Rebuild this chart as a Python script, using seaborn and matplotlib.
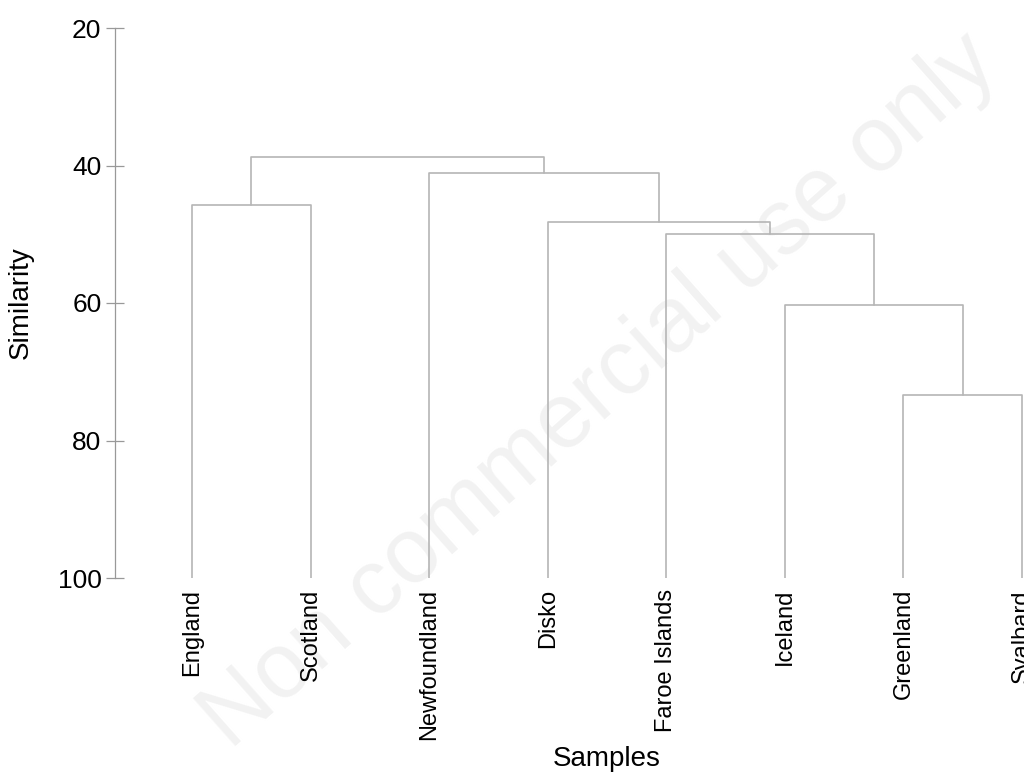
import matplotlib

matplotlib.use("Agg")
import matplotlib.pyplot as plt
import pandas as pd
import seaborn as sns

# leaves in plotted order
leaves = ["England", "Scotland", "Newfoundland", "Disko", "Faroe Islands",
          "Iceland", "Greenland", "Svalbard"]

# merges: (left node, right node, similarity); merge k creates node 8 + k
merge_left = [6, 5, 4, 3, 0, 2, 12]
merge_right = [7, 8, 9, 10, 1, 11, 13]
merge_similarity = [73.4, 60.3, 50.0, 48.2, 45.7, 41.1, 38.8]

y_ticks = [20, 40, 60, 80, 100]
leaf_similarity = 100


def build_segments():
    pos = {i: (float(i), float(leaf_similarity)) for i in range(len(leaves))}
    rows = []
    for k, (a, b, s) in enumerate(zip(merge_left, merge_right, merge_similarity)):
        xa, ya = pos[a]
        xb, yb = pos[b]
        for x, y in [(xa, ya), (xa, s), (xb, s), (xb, yb)]:
            rows.append({"x": x, "y": y, "seg": k})
        pos[len(leaves) + k] = ((xa + xb) / 2, s)
    return pd.DataFrame(rows)


def main():
    sns.set_theme(style="white")
    plt.rcParams["font.family"] = ["Liberation Sans", "DejaVu Sans"]

    fig = plt.figure(figsize=(10.24, 7.76), dpi=100)
    ax = fig.add_axes([115 / 1024, 198 / 776, 909 / 1024, 550 / 776])
    ax.set_zorder(1)
    ax.patch.set_alpha(0)

    # watermark sits behind the axes
    fig.text(600 / 1024, 1 - 392 / 776, "Non commercial use only", fontsize=66,
             color="#f2f2f2", rotation=41.5, ha="center", va="center",
             rotation_mode="anchor", zorder=0)

    segments = build_segments()
    sns.lineplot(data=segments, x="x", y="y", units="seg", estimator=None, sort=False,
                 color="#b5b5b5", linewidth=1.2, ax=ax, legend=False)

    ax.set_xlim(-0.65, 7.017)
    ax.set_ylim(100, 20)
    ax.set_yticks(y_ticks)
    ax.set_yticklabels([str(t) for t in y_ticks], fontsize=19, color="black")
    ax.set_xticks(range(len(leaves)))
    ax.set_xticklabels(leaves, rotation=90, fontsize=17, va="top", color="black")
    ax.tick_params(axis="x", length=0, pad=8)
    ax.tick_params(axis="y", direction="inout", length=13.5, width=0.9, color="#999999",
                   pad=3, left=True)

    for side in ["top", "right", "bottom"]:
        ax.spines[side].set_visible(False)
    ax.spines["left"].set_color("#999999")
    ax.spines["left"].set_linewidth(0.9)

    ax.set_xlabel("Samples", fontsize=20, color="black")
    ax.set_ylabel("Similarity", fontsize=20, color="black")
    ax.xaxis.set_label_coords((607 - 115) / 909, -0.305)
    ax.yaxis.set_label_coords(-0.089, 0.5)

    fig.savefig("out.png", dpi=100)
    plt.close(fig)


if __name__ == "__main__":
    main()
